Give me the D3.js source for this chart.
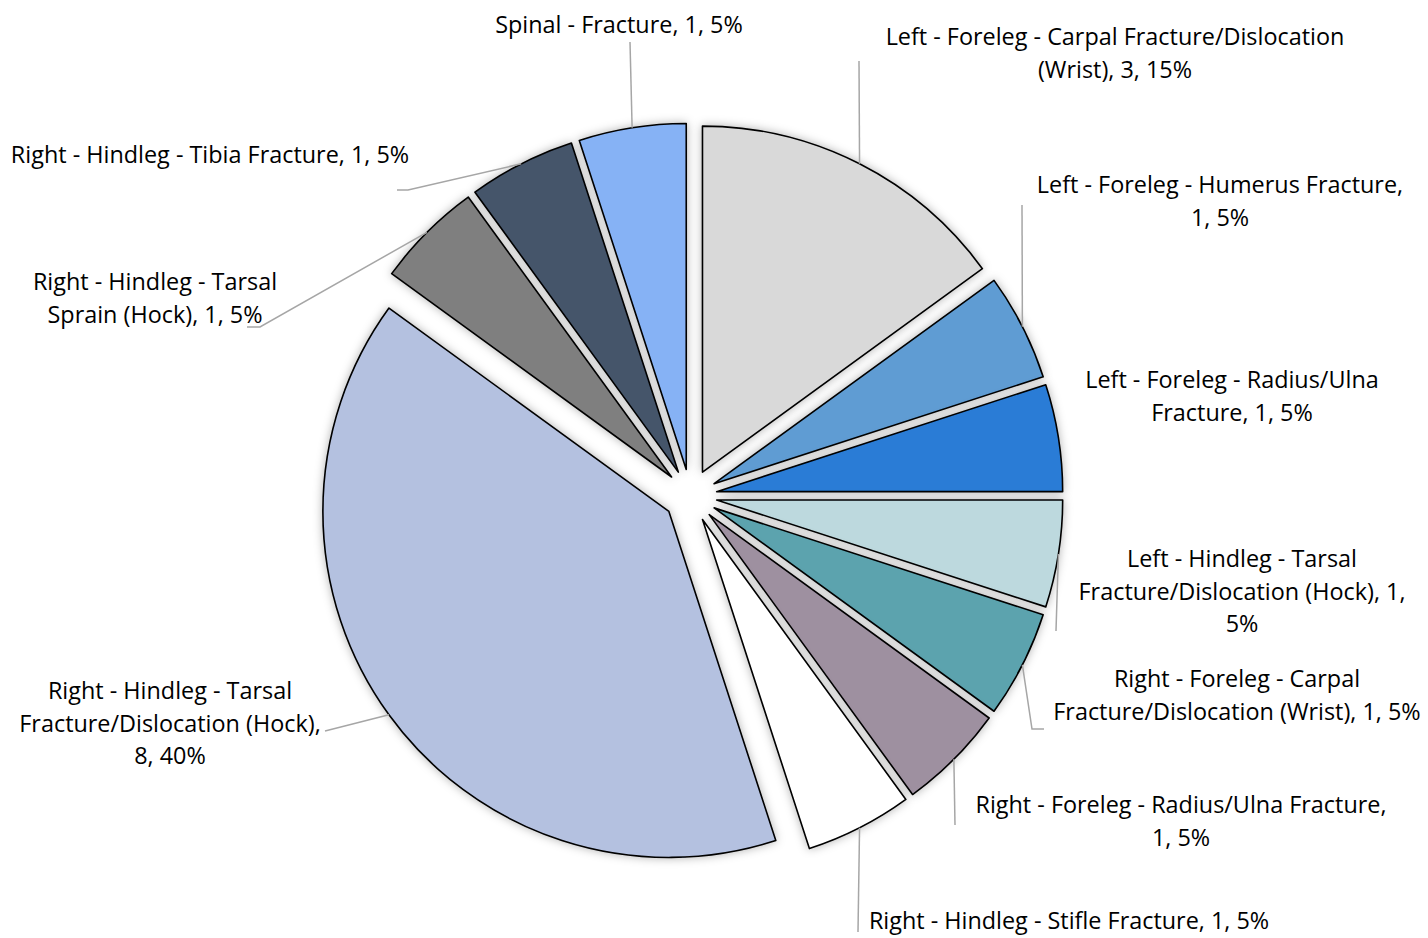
<!DOCTYPE html>
<html>
<head>
<meta charset="utf-8">
<script src="https://cdn.jsdelivr.net/npm/d3@7"></script>
<style>
  body { margin: 0; background: #fff; }
  text { font-family: "Open Sans", Lato, sans-serif; font-size: 23.4px; fill: #000; }
</style>
</head>
<body>
<svg width="1428" height="938"></svg>
<script>
const categories = [
  "Left - Foreleg - Carpal Fracture/Dislocation (Wrist)",
  "Left - Foreleg - Humerus Fracture",
  "Left - Foreleg - Radius/Ulna Fracture",
  "Left - Hindleg - Tarsal Fracture/Dislocation (Hock)",
  "Right - Foreleg - Carpal Fracture/Dislocation (Wrist)",
  "Right - Foreleg - Radius/Ulna Fracture",
  "Right - Hindleg - Stifle Fracture",
  "Right - Hindleg - Tarsal Fracture/Dislocation (Hock)",
  "Right - Hindleg - Tarsal Sprain (Hock)",
  "Right - Hindleg - Tibia Fracture",
  "Spinal - Fracture"
]
const counts = [3, 1, 1, 1, 1, 1, 1, 8, 1, 1, 1]
const colors = ["#d9d9d9", "#5f9cd3", "#2a7cd6", "#bdd9de", "#5ba3ae", "#9e90a0",
  "#ffffff", "#b4c1e0", "#7f7f7f", "#44546a", "#86b2f5"]

// label text lines (excel wraps them), already split
const labelLines = [
  ["Left - Foreleg - Carpal Fracture/Dislocation", "(Wrist), 3, 15%"],
  ["Left - Foreleg - Humerus Fracture,", "1, 5%"],
  ["Left - Foreleg - Radius/Ulna", "Fracture, 1, 5%"],
  ["Left - Hindleg - Tarsal", "Fracture/Dislocation (Hock), 1,", "5%"],
  ["Right - Foreleg - Carpal", "Fracture/Dislocation (Wrist), 1, 5%"],
  ["Right - Foreleg - Radius/Ulna Fracture,", "1, 5%"],
  ["Right - Hindleg - Stifle Fracture, 1, 5%"],
  ["Right - Hindleg - Tarsal", "Fracture/Dislocation (Hock),", "8, 40%"],
  ["Right - Hindleg - Tarsal", "Sprain (Hock), 1, 5%"],
  ["Right - Hindleg - Tibia Fracture, 1, 5%"],
  ["Spinal - Fracture, 1, 5%"]
]

// label layout: center x, first line middle y, leader points on the label side
const labelPos = [
  {x: 1115, y: 37, lead: [[859, 61]]},
  {x: 1220, y: 185, lead: [[1022, 205]]},
  {x: 1232, y: 380, lead: []},
  {x: 1242, y: 559, lead: [[1056, 631]]},
  {x: 1237, y: 679, lead: [[1044, 729], [1032, 729]]},
  {x: 1181, y: 805, lead: [[955, 825]]},
  {x: 1069, y: 921, lead: [[858, 932]]},
  {x: 170, y: 691, lead: [[325, 731]]},
  {x: 155, y: 282, lead: [[247, 327], [260, 327]]},
  {x: 210, y: 155, lead: [[397, 190], [408, 190]]},
  {x: 619, y: 25, lead: [[630, 42]]}
]

const svg = d3.select("svg")
const cx = 690.4, cy = 495.8
const radius = 346
const explode = 26.6
const lineH = 32.5

const defs = svg.append("defs")
const shadow = defs.append("filter").attr("id", "shadow")
  .attr("x", "-20%").attr("y", "-20%").attr("width", "140%").attr("height", "140%")
shadow.append("feDropShadow")
  .attr("dx", 0).attr("dy", 0).attr("stdDeviation", 5)
  .attr("flood-color", "#000").attr("flood-opacity", 0.3)

const pie = d3.pie().sort(null).value(d => d)
const arcs = pie(counts)
const arc = d3.arc().innerRadius(0).outerRadius(radius)

const offset = d => {
  const a = (d.startAngle + d.endAngle) / 2
  return [Math.sin(a) * explode, -Math.cos(a) * explode]
}
const arcPoint = d => {
  const a = (d.startAngle + d.endAngle) / 2
  const o = offset(d)
  return [cx + o[0] + Math.sin(a) * radius, cy + o[1] - Math.cos(a) * radius]
}

const g = svg.append("g").attr("transform", `translate(${cx}, ${cy})`)

g.selectAll("path.slice")
  .data(arcs)
  .join("path")
  .attr("class", "slice")
  .attr("transform", d => `translate(${offset(d)})`)
  .attr("d", arc)
  .attr("fill", (d, i) => colors[i])
  .attr("stroke", "#000")
  .attr("stroke-width", 1.6)
  .attr("stroke-linejoin", "round")
  .attr("filter", "url(#shadow)")

// leader lines
svg.append("g").selectAll("path")
  .data(arcs.filter((d, i) => labelPos[i].lead.length))
  .join("path")
  .attr("d", d => d3.line()(labelPos[d.index].lead.concat([arcPoint(d)])))
  .attr("fill", "none")
  .attr("stroke", "#a6a6a6")
  .attr("stroke-width", 1.5)

// labels
const labels = svg.append("g").selectAll("text")
  .data(arcs)
  .join("text")
  .attr("text-anchor", "middle")

labels.selectAll("tspan")
  .data(d => labelLines[d.index].map((t, k) => ({t, k, p: labelPos[d.index]})))
  .join("tspan")
  .attr("x", d => d.p.x)
  .attr("y", d => d.p.y + d.k * lineH)
  .attr("dy", "0.35em")
  .text(d => d.t)
</script>
</body>
</html>
